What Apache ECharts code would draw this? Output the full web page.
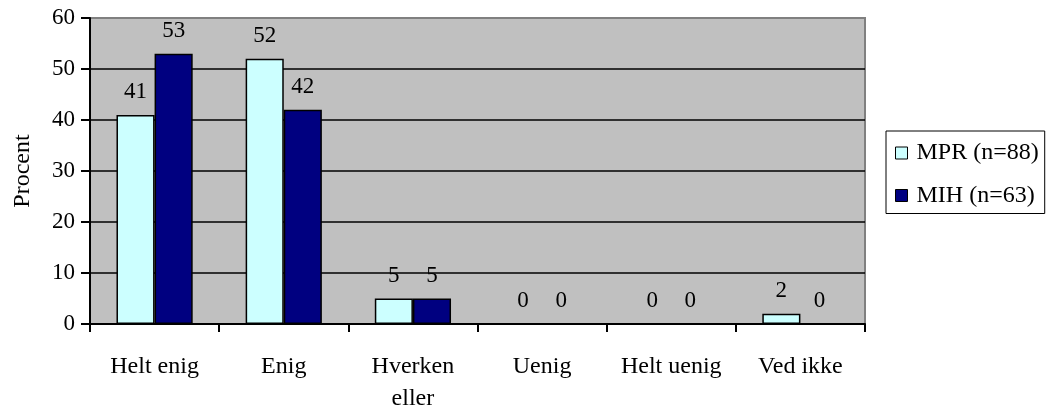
<!DOCTYPE html>
<html>
<head>
<meta charset="utf-8">
<script src="https://cdn.jsdelivr.net/npm/echarts@6/dist/echarts.min.js"></script>
<style>
  html, body { margin: 0; padding: 0; background: #fff; }
  #chart { width: 1047px; height: 411px; }
</style>
</head>
<body>
<div id="chart"></div>
<script>
// Svarfordeling i procent for to grupper
const categories = ['Helt enig', 'Enig', 'Hverken\neller', 'Uenig', 'Helt uenig', 'Ved ikke'];
const mprName = 'MPR (n=88)';
const mihName = 'MIH (n=63)';
const mprValues = [41, 52, 5, 0, 0, 2];
const mihValues = [53, 42, 5, 0, 0, 0];
const yTicks = { min: 0, max: 60, interval: 10 };

const font = 'Liberation Serif, Times New Roman, serif';

const labelStyle = {
  show: true,
  position: 'top',
  distance: 11,
  color: '#000',
  fontFamily: font,
  fontSize: 23
};

const chart = echarts.init(document.getElementById('chart'), null, { renderer: 'canvas' });
chart.setOption({
  animation: false,
  backgroundColor: '#fff',
  textStyle: { fontFamily: font },
  grid: {
    left: 90, top: 18, right: 182, bottom: 87,
    outerBoundsMode: 'none',
    containLabel: false,
    show: true,
    backgroundColor: '#C0C0C0',
    borderColor: '#808080',
    borderWidth: 2
  },
  legend: {
    orient: 'vertical',
    left: 886, top: 131,
    padding: [10, 6, 6, 9],
    itemGap: 18.5,
    itemWidth: 12, itemHeight: 12,
    borderColor: '#000', borderWidth: 1,
    backgroundColor: '#fff',
    textStyle: { fontFamily: font, fontSize: 24, color: '#000', padding: [0, 0, 0, 4] },
    data: [
      { name: mprName, icon: 'rect', itemStyle: { borderColor: '#000', borderWidth: 1 } },
      { name: mihName, icon: 'rect', itemStyle: { borderColor: '#000', borderWidth: 1 } }
    ]
  },
  xAxis: {
    type: 'category',
    data: categories,
    axisLine: { show: true, lineStyle: { color: '#000', width: 2 } },
    axisTick: { show: true, interval: 0, length: 8, lineStyle: { color: '#000', width: 2 } },
    axisLabel: { interval: 0, color: '#000', fontFamily: font, fontSize: 24, margin: 27, lineHeight: 32 },
    splitLine: { show: false }
  },
  yAxis: {
    type: 'value',
    min: yTicks.min, max: yTicks.max, interval: yTicks.interval,
    name: 'Procent',
    nameLocation: 'middle',
    nameGap: 55,
    nameRotate: 90,
    nameTextStyle: { color: '#000', fontFamily: font, fontSize: 24 },
    axisLine: { show: true, lineStyle: { color: '#000', width: 2 } },
    axisTick: { show: true, length: 9, lineStyle: { color: '#000', width: 2 } },
    axisLabel: { color: '#000', fontFamily: font, fontSize: 23, margin: 15 },
    splitLine: {
      show: true,
      lineStyle: {
        color: ['#000', '#000', '#000', '#000', '#000', '#000', '#808080'],
        width: 1.5
      }
    }
  },
  series: [
    {
      name: mprName,
      type: 'bar',
      data: mprValues,
      barGap: '0%',
      barCategoryGap: '41%',
      itemStyle: { color: '#CCFFFF', borderColor: '#000', borderWidth: 1.5 },
      label: labelStyle
    },
    {
      name: mihName,
      type: 'bar',
      data: mihValues,
      itemStyle: { color: '#000080', borderColor: '#000', borderWidth: 1.5 },
      label: labelStyle
    }
  ]
});
</script>
</body>
</html>
